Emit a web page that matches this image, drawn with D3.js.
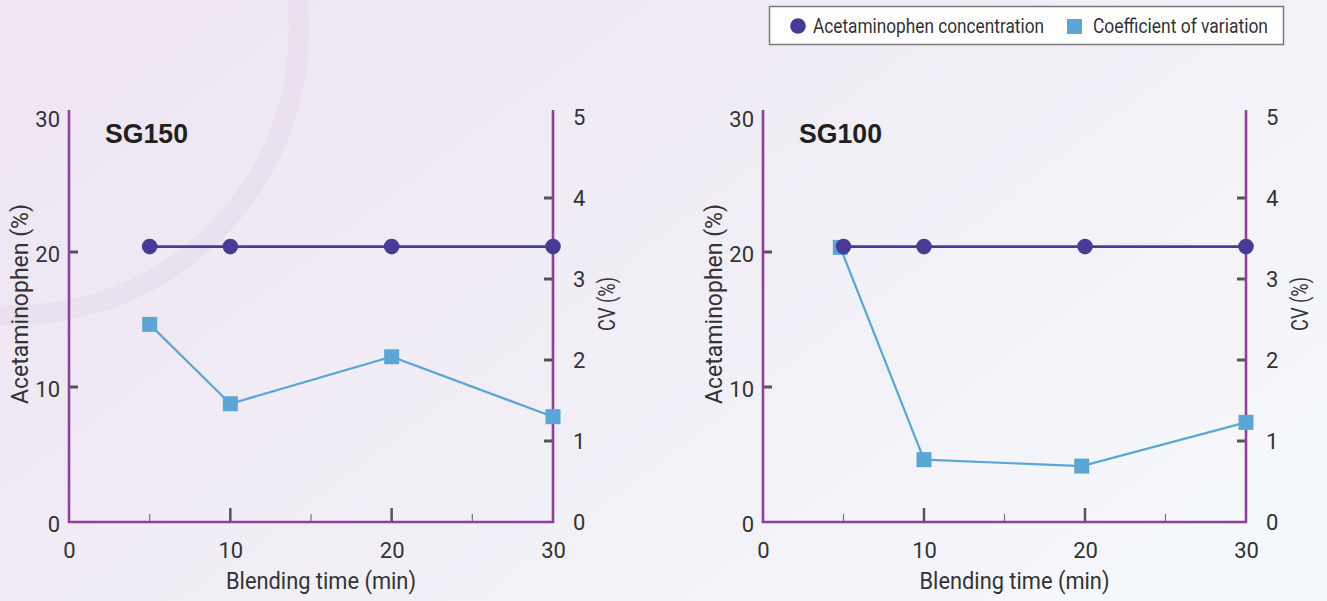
<!DOCTYPE html>
<html>
<head>
<meta charset="utf-8">
<script src="https://cdn.jsdelivr.net/npm/d3@7"></script>
<style>
  html, body { margin: 0; padding: 0; }
  body { width: 1327px; height: 601px; overflow: hidden; }
  svg { display: block; }
  .lbl { font-family: Roboto, "Liberation Sans", sans-serif; font-weight: 400; fill: #333; }
</style>
</head>
<body>
<svg id="chart" width="1327" height="601"></svg>
<script>
// ---- data ----
const panelNames = ["SG150", "SG100"];
const blendTime = [5, 10, 20, 30];
const sg150Conc = [20.4, 20.4, 20.4, 20.4];
const sg150CV = [2.44, 1.46, 2.04, 1.30];
const sg100Conc = [20.4, 20.4, 20.4, 20.4];
const sg100CV = [3.39, 0.77, 0.69, 1.23];
const sg100CVTime = [4.8, 10, 19.8, 30];
const xTickLabels = [0, 10, 20, 30];
const xMajorTicks = [10, 20];
const xMinorTicks = [5, 15, 25];
const concTickLabels = [0, 10, 20, 30];
const concTicks = [10, 20];
const cvTickLabels = [0, 1, 2, 3, 4, 5];
const cvTicks = [1, 2, 3, 4];
const legendLabels = ["Acetaminophen concentration", "Coefficient of variation"];

const panelData = [
  { name: panelNames[0], concT: blendTime, conc: sg150Conc, cvT: blendTime, cv: sg150CV },
  { name: panelNames[1], concT: blendTime, conc: sg100Conc, cvT: sg100CVTime, cv: sg100CV }
];

const C_CONC = "#4a3a97";
const C_CV = "#5aa6d6";
const C_AXIS = "#8f3f9d";
const C_TICK = "#555";

const svg = d3.select("#chart");

// background
const defs = svg.append("defs");
const grad = defs.append("linearGradient").attr("id", "bg")
  .attr("x1", "0").attr("y1", "0.2").attr("x2", "1").attr("y2", "0.8");
grad.append("stop").attr("offset", "0").attr("stop-color", "#efe5f3");
grad.append("stop").attr("offset", "0.5").attr("stop-color", "#f1eef6");
grad.append("stop").attr("offset", "1").attr("stop-color", "#f5f8fc");
svg.append("rect").attr("width", 1327).attr("height", 601).attr("fill", "url(#bg)");
svg.append("circle").attr("cx", 14).attr("cy", 30).attr("r", 285)
  .attr("fill", "none").attr("stroke", "#e6dcec").attr("stroke-opacity", 0.6).attr("stroke-width", 20);

const layout = [
  { left: 69, right: 553 },
  { left: 763, right: 1246 }
];
const yBottom = 522, yTop = 117, axisTop = 110;

function fitText(sel, len) {
  sel.attr("textLength", len).attr("lengthAdjust", "spacingAndGlyphs");
}

panelData.forEach((p, i) => {
  const L = layout[i];
  const g = svg.append("g");
  const x = d3.scaleLinear().domain([0, 30]).range([L.left, L.right]);
  const yc = d3.scaleLinear().domain([0, 30]).range([yBottom, yTop]);
  const yv = d3.scaleLinear().domain([0, 5]).range([yBottom, yTop]);

  // axis tick labels via d3 axes (tick lines hidden)
  const xa = g.append("g").attr("transform", `translate(0,${yBottom})`)
    .call(d3.axisBottom(x).tickValues(xTickLabels).tickSize(0).tickPadding(20).tickFormat(d3.format("d")));
  const ya = g.append("g").attr("transform", `translate(${L.left},0)`)
    .call(d3.axisLeft(yc).tickValues(concTickLabels).tickSize(0).tickPadding(9).tickFormat(d3.format("d")));
  const yb = g.append("g").attr("transform", `translate(${L.right},0)`)
    .call(d3.axisRight(yv).tickValues(cvTickLabels).tickSize(0).tickPadding(20).tickFormat(d3.format("d")));
  [xa, ya, yb].forEach(a => {
    a.select(".domain").remove();
    a.selectAll("text").attr("class", "lbl").style("font-size", "22px").attr("fill", "#333");
  });
  ya.selectAll("text").attr("dy", "0.42em");

  // tick marks
  g.selectAll(".xmaj").data(xMajorTicks).join("line")
    .attr("x1", d => x(d)).attr("x2", d => x(d)).attr("y1", yBottom).attr("y2", yBottom - 14)
    .attr("stroke", C_TICK).attr("stroke-width", 2.5);
  g.selectAll(".xmin").data(xMinorTicks).join("line")
    .attr("x1", d => x(d)).attr("x2", d => x(d)).attr("y1", yBottom).attr("y2", yBottom - 8)
    .attr("stroke", "#777").attr("stroke-width", 1.2);
  g.selectAll(".yct").data(concTicks).join("line")
    .attr("x1", L.left).attr("x2", L.left + 9).attr("y1", d => yc(d)).attr("y2", d => yc(d))
    .attr("stroke", C_TICK).attr("stroke-width", 3);
  g.selectAll(".yvt").data(cvTicks).join("line")
    .attr("x1", L.right).attr("x2", L.right - 9).attr("y1", d => yv(d)).attr("y2", d => yv(d))
    .attr("stroke", C_TICK).attr("stroke-width", 3);

  // axis frame (left, bottom, right)
  g.append("path")
    .attr("d", `M${L.left},${axisTop}V${yBottom}H${L.right}V${axisTop}`)
    .attr("fill", "none").attr("stroke", C_AXIS).attr("stroke-width", 2.6);

  // axis titles
  g.append("text").attr("class", "lbl").style("font-size", "23px")
    .attr("text-anchor", "middle")
    .attr("x", (L.left + L.right) / 2 + 10).attr("y", 589)
    .text("Blending time (min)").call(fitText, 190);
  g.append("text").attr("class", "lbl").style("font-size", "23px")
    .attr("text-anchor", "middle")
    .attr("transform", `translate(${L.left - 41},304) rotate(-90)`)
    .text("Acetaminophen (%)").call(fitText, 200);
  g.append("text").attr("class", "lbl").style("font-size", "23px")
    .attr("text-anchor", "middle")
    .attr("transform", `translate(${L.right + 62},304) rotate(-90)`)
    .text("CV (%)").call(fitText, 54);

  // panel title
  g.append("text").attr("x", L.left + 36).attr("y", 143)
    .style("font-family", "'Liberation Sans', Arial, sans-serif").style("font-weight", "bold")
    .style("font-size", "27px").attr("fill", "#231f20")
    .text(p.name).call(fitText, 83);

  // CV series
  const cvPts = p.cv.map((v, k) => [x(p.cvT[k]), yv(v)]);
  g.append("path").attr("d", d3.line()(cvPts))
    .attr("fill", "none").attr("stroke", C_CV).attr("stroke-width", 2.2);
  g.selectAll(".sq").data(cvPts).join("rect")
    .attr("x", d => d[0] - 7.5).attr("y", d => d[1] - 7.5).attr("width", 15).attr("height", 15)
    .attr("fill", C_CV);

  // concentration series
  const cPts = p.conc.map((v, k) => [x(p.concT[k]), yc(v)]);
  g.append("path").attr("d", d3.line()(cPts))
    .attr("fill", "none").attr("stroke", C_CONC).attr("stroke-width", 2.6);
  g.selectAll(".ci").data(cPts).join("circle")
    .attr("cx", d => d[0]).attr("cy", d => d[1]).attr("r", 7.8)
    .attr("fill", C_CONC);
});

// legend
const lg = svg.append("g");
lg.append("rect").attr("x", 769.5).attr("y", 6.5).attr("width", 514).attr("height", 38)
  .attr("fill", "#ffffff").attr("stroke", "#7a7a7a").attr("stroke-width", 1.5);
lg.append("circle").attr("cx", 798).attr("cy", 26).attr("r", 7.8).attr("fill", C_CONC);
lg.append("text").attr("class", "lbl").style("font-size", "20px").attr("fill", "#444")
  .attr("x", 813).attr("y", 33).text(legendLabels[0]).call(fitText, 231);
lg.append("rect").attr("x", 1067).attr("y", 19).attr("width", 15).attr("height", 15).attr("fill", C_CV);
lg.append("text").attr("class", "lbl").style("font-size", "20px").attr("fill", "#444")
  .attr("x", 1093).attr("y", 33).text(legendLabels[1]).call(fitText, 175);
</script>
</body>
</html>
